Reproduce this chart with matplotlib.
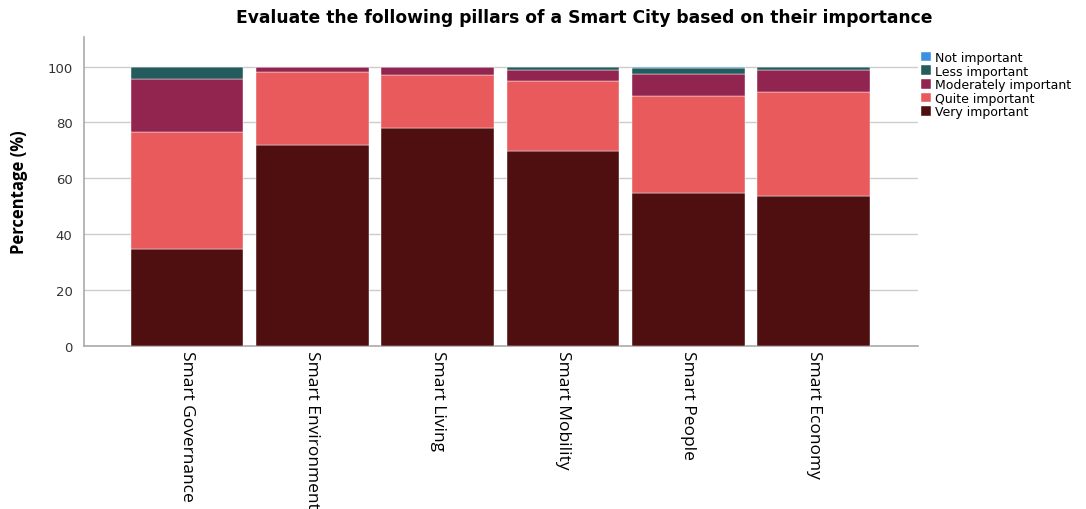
# module imports
import matplotlib
matplotlib.use("Agg")
import matplotlib.pyplot as plt
import numpy as np

# data
pillars = ["Smart Governance", "Smart Environment", "Smart Living",
           "Smart Mobility", "Smart People", "Smart Economy"]
very_important = [34.6, 71.8, 77.9, 69.6, 54.6, 53.6]
quite_important = [41.8, 26.4, 19.2, 25.4, 34.8, 37.4]
moderately_important = [19.3, 1.5, 2.9, 3.9, 8.0, 7.8]
less_important = [4.1, 0.3, 0.0, 0.9, 2.1, 1.2]
not_important = [0.2, 0.0, 0.0, 0.2, 0.5, 0.0]

# constants
SERIES = [
    ("Very important", very_important, "#4f0e10"),
    ("Quite important", quite_important, "#e85a5c"),
    ("Moderately important", moderately_important, "#922450"),
    ("Less important", less_important, "#245c5e"),
    ("Not important", not_important, "#3d8fe0"),
]

if __name__ == "__main__":
    fig, ax = plt.subplots(figsize=(10.86, 5.10), dpi=100)
    fig.subplots_adjust(left=0.077, right=0.845, top=0.925, bottom=0.32)

    x = np.arange(len(pillars))
    bottom = np.zeros(len(pillars))
    handles = []
    for label, values, color in SERIES:
        vals = np.array(values)
        bars = ax.bar(x, vals, width=0.9, bottom=bottom, color=color,
                      edgecolor="#ffffff", linewidth=0.3, label=label,
                      zorder=3)
        handles.append(bars)
        bottom += vals

    # axes styling
    ax.set_xlim(-0.825, 5.83)
    ax.set_ylim(0, 110.5)
    ax.set_yticks([0, 20, 40, 60, 80, 100])
    ax.yaxis.grid(True, color="#cccccc", linewidth=1, zorder=0)
    ax.set_axisbelow(True)
    for side in ["top", "right"]:
        ax.spines[side].set_visible(False)
    for side in ["left", "bottom"]:
        ax.spines[side].set_color("#aaaaaa")
        ax.spines[side].set_linewidth(1.2)
    ax.tick_params(axis="both", length=0, pad=8)
    ax.tick_params(axis="y", labelsize=9.5, labelcolor="#333333")
    ax.set_xticks(x)
    ax.set_xticklabels(pillars, rotation=270, fontsize=12.5,
                       family="Open Sans", va="top", ha="center")
    ax.tick_params(axis="x", pad=3)

    ax.set_ylabel("Percentage (%)", fontsize=12, fontweight="bold",
                  family="Open Sans", labelpad=14)
    fig.suptitle("Evaluate the following pillars of a Smart City based on their importance",
                 fontsize=12.3, fontweight="bold", x=0.538, y=0.982)

    # legend, top to bottom reversed stack order
    leg = ax.legend(handles[::-1], [s[0] for s in SERIES][::-1],
                    loc="upper left", bbox_to_anchor=(0.995, 0.98),
                    frameon=False, fontsize=9, handlelength=0.8,
                    handleheight=0.8, handletextpad=0.3, labelspacing=0.05,
                    borderaxespad=0.2)

    plt.savefig("out.png", dpi=100)
